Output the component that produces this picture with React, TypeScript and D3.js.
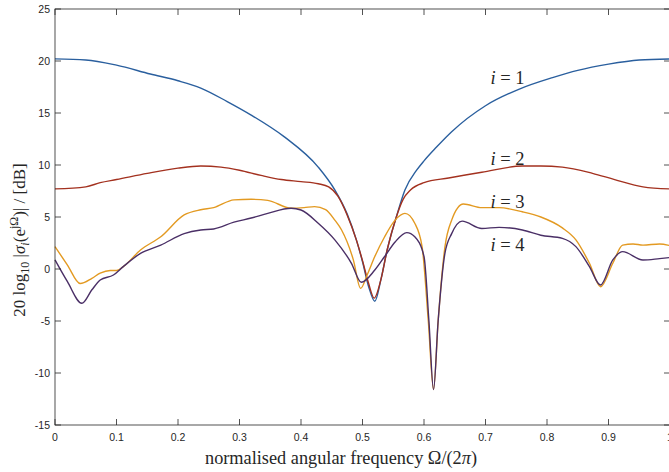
import React, { useEffect, useRef } from 'react'
import * as d3 from 'd3'

// singular value magnitudes: [normalised freq, dB]
const sigma1: [number, number][] = [
  [0, 20.2], [0.05, 20.1], [0.1, 19.6], [0.155, 18.75], [0.2, 18.1], [0.237, 17.4],
  [0.28, 16.1], [0.319, 14.8], [0.373, 12.7], [0.428, 9.8], [0.455, 7.6], [0.475, 5.3],
  [0.49, 2.8], [0.5, 0.7], [0.51, -1.7], [0.52, -3.1], [0.53, -1.0], [0.54, 1.8],
  [0.555, 5.0], [0.569, 7.6], [0.588, 9.5], [0.6, 10.4], [0.62, 11.7], [0.645, 13.2],
  [0.7, 15.7], [0.755, 17.3], [0.809, 18.4], [0.85, 19.1], [0.9, 19.7], [0.95, 20.1],
  [1, 20.2],
]

const sigma2: [number, number][] = [
  [0, 7.7], [0.05, 7.9], [0.0735, 8.3], [0.1, 8.6], [0.15, 9.2], [0.2, 9.7], [0.237, 9.9],
  [0.27, 9.8], [0.3, 9.5], [0.335, 9.0], [0.368, 8.6], [0.4, 8.4], [0.428, 8.2],
  [0.445, 7.9], [0.46, 7.0], [0.475, 5.2], [0.49, 2.8], [0.5, 0.8], [0.51, -1.4],
  [0.519, -2.8], [0.53, -1.0], [0.54, 1.8], [0.555, 5.0], [0.566, 6.7], [0.578, 7.6],
  [0.6, 8.3], [0.64, 8.75], [0.694, 9.3], [0.76, 9.9], [0.79, 9.9], [0.825, 9.8],
  [0.874, 9.2], [0.91, 8.6], [0.956, 7.9], [1, 7.7],
]

const sigma3: [number, number][] = [
  [0, 2.15], [0.02, 0.4], [0.041, -1.4], [0.06, -0.9], [0.0735, -0.4], [0.09, -0.15],
  [0.1, -0.15], [0.111, 0.23], [0.139, 1.83], [0.172, 3.1], [0.21, 5.2], [0.237, 5.7],
  [0.258, 5.9], [0.291, 6.65], [0.319, 6.7], [0.346, 6.6], [0.384, 5.84], [0.405, 5.9],
  [0.422, 6.0], [0.44, 5.7], [0.455, 4.7], [0.466, 3.75], [0.485, 0.9], [0.497, -1.86],
  [0.508, -0.5], [0.52, 1.2], [0.536, 3.1], [0.553, 4.7], [0.569, 5.35], [0.585, 4.4],
  [0.597, 2.1], [0.607, -5], [0.6155, -11.6], [0.623, -5], [0.634, 2.1], [0.645, 4.7],
  [0.664, 6.25], [0.694, 5.9], [0.722, 5.9], [0.76, 5.5], [0.79, 5.0], [0.825, 3.95],
  [0.847, 2.8], [0.869, 0.55], [0.887, -1.7], [0.907, 0.55], [0.923, 2.3], [0.94, 2.4],
  [0.956, 2.3], [0.983, 2.4], [1, 2.25],
]

const sigma4: [number, number][] = [
  [0, 0.87], [0.02, -1.2], [0.0436, -3.3], [0.06, -2.0], [0.0735, -1.06], [0.095, -0.58],
  [0.111, 0.23], [0.139, 1.5], [0.172, 2.3], [0.21, 3.4], [0.237, 3.75], [0.258, 3.85],
  [0.291, 4.5], [0.319, 4.9], [0.346, 5.35], [0.384, 5.84], [0.4, 5.67], [0.428, 4.4],
  [0.455, 2.8], [0.482, 0.55], [0.498, -1.28], [0.52, -0.1], [0.536, 1.2], [0.553, 2.6],
  [0.572, 3.5], [0.585, 3.1], [0.6, 1.2], [0.608, -5], [0.6155, -11.6], [0.623, -5],
  [0.634, 1.5], [0.645, 3.4], [0.662, 4.6], [0.694, 3.9], [0.722, 4.0], [0.76, 3.75],
  [0.79, 3.25], [0.825, 2.95], [0.847, 2.15], [0.869, 0.23], [0.887, -1.54],
  [0.907, 0.87], [0.923, 1.67], [0.956, 0.87], [0.983, 1.0], [1, 1.1],
]

const seriesColors = ['#2a5f9e', '#a3311f', '#e39a22', '#4a2f66']
const seriesLabels = ['1', '2', '3', '4']
const labelValues = [17.8, 10.0, 5.9, 1.7]
const labelFreq = 0.708

const xTicks = [0, 0.1, 0.2, 0.3, 0.4, 0.5, 0.6, 0.7, 0.8, 0.9, 1]
const yTicks = [-15, -10, -5, 0, 5, 10, 15, 20, 25]

const W = 669
const H = 472

export default function App() {
  const ref = useRef<SVGSVGElement>(null)

  useEffect(() => {
    const svg = d3.select(ref.current)
    svg.selectAll('*').remove()

    const x = d3.scaleLinear().domain([0, 1]).range([55, 670])
    const y = d3.scaleLinear().domain([-15, 25]).range([425, 9])
    const axisColor = '#262626'
    const serif = 'Liberation Serif, DejaVu Serif, serif'
    const sans = 'Liberation Sans, Arial, sans-serif'

    const g = svg.append('g')

    const line = d3.line<[number, number]>()
      .x(d => x(d[0]))
      .y(d => y(d[1]))
      .curve(d3.curveMonotoneX)

    const all = [sigma1, sigma2, sigma3, sigma4]
    all.forEach((s, i) => {
      g.append('path')
        .attr('d', line(s))
        .attr('fill', 'none')
        .attr('stroke', seriesColors[i])
        .attr('stroke-width', 1.4)
    })

    // box with inward ticks
    g.append('rect')
      .attr('x', x(0)).attr('y', y(25))
      .attr('width', x(1) - x(0)).attr('height', y(-15) - y(25))
      .attr('fill', 'none').attr('stroke', axisColor).attr('stroke-width', 0.8)

    const tl = 6
    xTicks.forEach(t => {
      g.append('line').attr('x1', x(t)).attr('x2', x(t)).attr('y1', y(-15)).attr('y2', y(-15) - tl)
        .attr('stroke', axisColor).attr('stroke-width', 0.8)
      g.append('line').attr('x1', x(t)).attr('x2', x(t)).attr('y1', y(25)).attr('y2', y(25) + tl)
        .attr('stroke', axisColor).attr('stroke-width', 0.8)
      g.append('text').attr('x', x(t)).attr('y', 441)
        .attr('text-anchor', 'middle')
        .attr('font-family', sans).attr('font-size', 10.5)
        .attr('fill', axisColor)
        .text(String(t))
    })
    yTicks.forEach(t => {
      g.append('line').attr('x1', x(0)).attr('x2', x(0) + tl).attr('y1', y(t)).attr('y2', y(t))
        .attr('stroke', axisColor).attr('stroke-width', 0.8)
      g.append('line').attr('x1', x(1)).attr('x2', x(1) - tl).attr('y1', y(t)).attr('y2', y(t))
        .attr('stroke', axisColor).attr('stroke-width', 0.8)
      g.append('text').attr('x', 50).attr('y', y(t) + 4)
        .attr('text-anchor', 'end')
        .attr('font-family', sans).attr('font-size', 10.5)
        .attr('fill', axisColor)
        .text(String(t))
    })

    // curve labels
    labelValues.forEach((v, i) => {
      const t = g.append('text')
        .attr('x', x(labelFreq)).attr('y', y(v))
        .attr('font-family', serif).attr('font-size', 18.5)
        .attr('fill', axisColor)
      t.append('tspan').attr('font-style', 'italic').text('i')
      t.append('tspan').text(' = ' + seriesLabels[i])
    })

    // x label
    const xl = g.append('text')
      .attr('x', 341).attr('y', 464)
      .attr('text-anchor', 'middle')
      .attr('font-family', serif).attr('font-size', 18.3)
      .attr('fill', axisColor)
    xl.append('tspan').text('normalised angular frequency Ω/(2')
    xl.append('tspan').attr('font-style', 'italic').text('π')
    xl.append('tspan').text(')')

    // y label
    const yl = g.append('text')
      .attr('transform', 'translate(25,240) rotate(-90)')
      .attr('text-anchor', 'middle')
      .attr('font-family', serif).attr('font-size', 17)
      .attr('fill', axisColor)
    yl.append('tspan').text('20 log')
    yl.append('tspan').attr('font-size', 12).attr('dy', 4).text('10')
    yl.append('tspan').attr('dy', -4).text(' |')
    yl.append('tspan').attr('font-style', 'italic').text('σ')
    yl.append('tspan').attr('font-style', 'italic').attr('font-size', 12).attr('dy', 4).text('i')
    yl.append('tspan').attr('dy', -4).text('(e')
    yl.append('tspan').attr('font-size', 12).attr('dy', -7).text('j')
    yl.append('tspan').attr('font-size', 12).text('Ω')
    yl.append('tspan').attr('dy', 7).text(')| / [dB]')
  }, [])

  return (
    <svg
      ref={ref}
      width={W}
      height={H}
      style={{ position: 'absolute', left: 0, top: 0, background: '#fff' }}
    />
  )
}
